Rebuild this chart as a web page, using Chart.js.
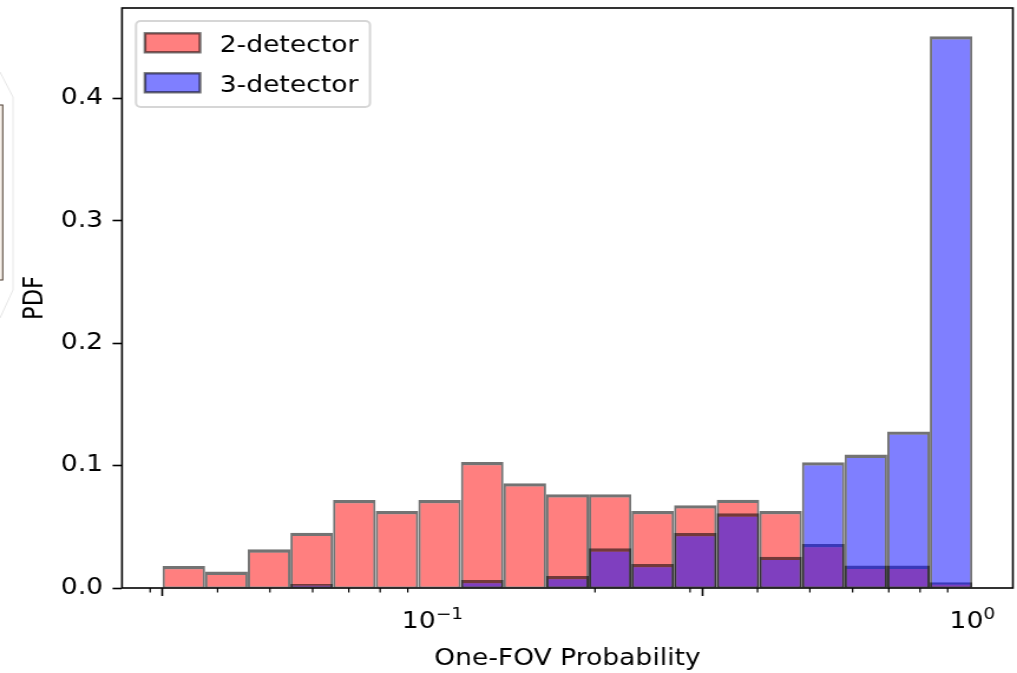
<!DOCTYPE html>
<html>
<head>
<meta charset="utf-8">
<script src="https://cdn.jsdelivr.net/npm/chart.js@4.4.1/dist/chart.umd.min.js"></script>
<style>
  html, body { margin: 0; padding: 0; background: #fff; overflow: hidden; }
</style>
</head>
<body>
<!-- drawn at 862px wide, shown 1017px wide -->
<canvas id="myChart" width="862" height="673" style="display:block;width:1017px;height:673px"></canvas>
<script>
// log-spaced histogram bins
const binEdges = [
  0.03162, 0.03793, 0.04548, 0.05456, 0.06543, 0.07848, 0.09412,
  0.1129, 0.1354, 0.1624, 0.1948, 0.2336, 0.2802, 0.3360,
  0.4031, 0.4833, 0.5797, 0.6953, 0.8339, 1.0
];

const twoDetector = [
  0.018, 0.0134, 0.0316, 0.0452, 0.072, 0.063, 0.072, 0.103, 0.0856, 0.0766,
  0.0766, 0.063, 0.0676, 0.0722, 0.063, 0.036, 0.0183, 0.0183, 0.0047
];

const threeDetector = [
  0, 0, 0, 0.0033, 0, 0, 0, 0.0065, 0, 0.0098,
  0.0324, 0.0196, 0.045, 0.061, 0.0256, 0.1028, 0.109, 0.128, 0.451
];

const seriesLabels = ['2-detector', '3-detector'];
const xMajorTicks = [0.1, 1];
const xMajorExponents = ['\u22121', '0'];
const xMinorTicks = [0.03, 0.04, 0.05, 0.06, 0.07, 0.08, 0.09,
  0.2, 0.3, 0.4, 0.5, 0.6, 0.7, 0.8, 0.9];

const binCenters = binEdges.slice(0, -1).map((e, i) => Math.sqrt(e * binEdges[i + 1]));

const FONT = 'DejaVu Sans';
Chart.defaults.font.family = FONT;
Chart.defaults.font.size = 22.5;
Chart.defaults.color = '#000';

const edge = 'rgba(0, 0, 0, 0.55)';
const barBorder = { top: 3.3, left: 2, right: 2, bottom: 1 };

const data = {
  datasets: [{
    label: seriesLabels[0],
    data: binCenters.map((x, i) => ({ x: x, y: twoDetector[i] })),
    backgroundColor: 'rgba(255, 0, 0, 0.5)',
    borderColor: edge,
    borderWidth: barBorder,
    borderSkipped: false,
    order: 2
  }, {
    label: seriesLabels[1],
    data: binCenters.map((x, i) => ({ x: x, y: threeDetector[i] })),
    backgroundColor: 'rgba(0, 0, 255, 0.5)',
    borderColor: edge,
    borderWidth: barBorder,
    borderSkipped: false,
    order: 1
  }]
};

// bit of the neighbouring panel on the far left
const sidePanel = {
  id: 'sidePanel',
  beforeDraw(chart) {
    const ctx = chart.ctx;
    ctx.save();
    ctx.strokeStyle = '#e6e6e6';
    ctx.lineWidth = 1;
    ctx.beginPath();
    ctx.moveTo(0, 72);
    ctx.lineTo(11, 97);
    ctx.lineTo(11, 290);
    ctx.lineTo(0, 318);
    ctx.stroke();
    ctx.fillStyle = '#f7f1ea';
    ctx.fillRect(-4, 105, 6.3, 175);
    ctx.strokeStyle = '#4a3b2e';
    ctx.strokeRect(-4, 105, 6.3, 175);
    ctx.restore();
  }
};

// axes frame, minor ticks, power-of-ten labels and the boxed legend
const decorations = {
  id: 'decorations',
  afterDatasetsDraw(chart) {
    const ctx = chart.ctx;
    const a = chart.chartArea;
    const x = chart.scales.x;
    ctx.save();
    ctx.strokeStyle = '#000';
    ctx.lineWidth = 1.2;
    ctx.beginPath();
    xMinorTicks.forEach(v => {
      const px = x.getPixelForValue(v);
      ctx.moveTo(px, a.bottom);
      ctx.lineTo(px, a.bottom + 4.6);
    });
    ctx.stroke();
    ctx.lineWidth = 1.6;
    ctx.strokeRect(a.left, a.top, a.right - a.left, a.bottom - a.top);

    // 10 with a raised exponent under each major tick
    ctx.fillStyle = '#000';
    ctx.textBaseline = 'alphabetic';
    ctx.textAlign = 'left';
    const base = a.bottom + 40;
    xMajorTicks.forEach((v, i) => {
      ctx.font = '22.5px "' + FONT + '"';
      const wBase = ctx.measureText('10').width;
      ctx.font = '15.75px "' + FONT + '"';
      const wExp = ctx.measureText(xMajorExponents[i]).width;
      const left = x.getPixelForValue(v) - (wBase + wExp) / 2;
      ctx.font = '22.5px "' + FONT + '"';
      ctx.fillText('10', left, base);
      ctx.font = '15.75px "' + FONT + '"';
      ctx.fillText(xMajorExponents[i], left + wBase, base - 9.5);
    });
    ctx.restore();
  },
  afterDraw(chart) {
    const ctx = chart.ctx;
    ctx.save();
    ctx.beginPath();
    ctx.roundRect(115.3, 21, 198.3, 86, 4);
    ctx.fillStyle = 'rgba(255, 255, 255, 0.8)';
    ctx.fill();
    ctx.strokeStyle = 'rgba(204, 204, 204, 0.8)';
    ctx.lineWidth = 2;
    ctx.stroke();
    ctx.font = '22.5px "' + FONT + '"';
    ctx.textBaseline = 'alphabetic';
    chart.data.datasets.forEach((ds, i) => {
      const y = 33.3 + i * 40;
      ctx.fillStyle = ds.backgroundColor;
      ctx.fillRect(122.9, y, 46.6, 19);
      ctx.strokeStyle = ds.borderColor;
      ctx.lineWidth = 2.4;
      ctx.strokeRect(122.9, y, 46.6, 19);
      ctx.fillStyle = '#000';
      ctx.fillText(ds.label, 186.3, 52.3 + i * 40);
    });
    ctx.restore();
  }
};

const config = {
  type: 'bar',
  data,
  options: {
    responsive: false,
    animation: false,
    devicePixelRatio: 1,
    grouped: false,
    barPercentage: 1,
    categoryPercentage: 1,
    inflateAmount: 0,
    layout: { padding: { left: 0, top: 8, right: 3.5, bottom: 0 } },
    plugins: {
      legend: { display: false },
      tooltip: { enabled: false }
    },
    scales: {
      x: {
        type: 'logarithmic',
        bounds: 'data',
        min: 0.02661,
        max: 1.1885,
        afterBuildTicks: s => { s.ticks = xMajorTicks.map(v => ({ value: v, major: true })); },
        afterFit: s => { s.height = 85; s.paddingLeft = 0; s.paddingRight = 0; },
        border: { display: false },
        grid: { drawOnChartArea: false, tickLength: 8, tickWidth: 1.6, tickColor: '#000' },
        ticks: {
          autoSkip: false,
          maxRotation: 0,
          callback: () => ''
        },
        title: {
          display: true,
          text: 'One-FOV Probability',
          padding: { top: 0, bottom: 0.5 }
        }
      },
      y: {
        min: 0,
        max: 0.474,
        afterFit: s => { s.width = 103.4; s.paddingTop = 0; s.paddingBottom = 0; },
        border: { display: false },
        grid: { drawOnChartArea: false, tickLength: 8, tickWidth: 1.6, tickColor: '#000' },
        ticks: {
          stepSize: 0.1,
          includeBounds: false,
          padding: 8,
          callback: v => v.toFixed(1)
        },
        title: {
          display: true,
          text: 'PDF',
          padding: { top: 16.2, bottom: 0 }
        }
      }
    }
  },
  plugins: [sidePanel, decorations]
};

const myChart = new Chart(
  document.getElementById('myChart'),
  config
);
</script>
</body>
</html>
